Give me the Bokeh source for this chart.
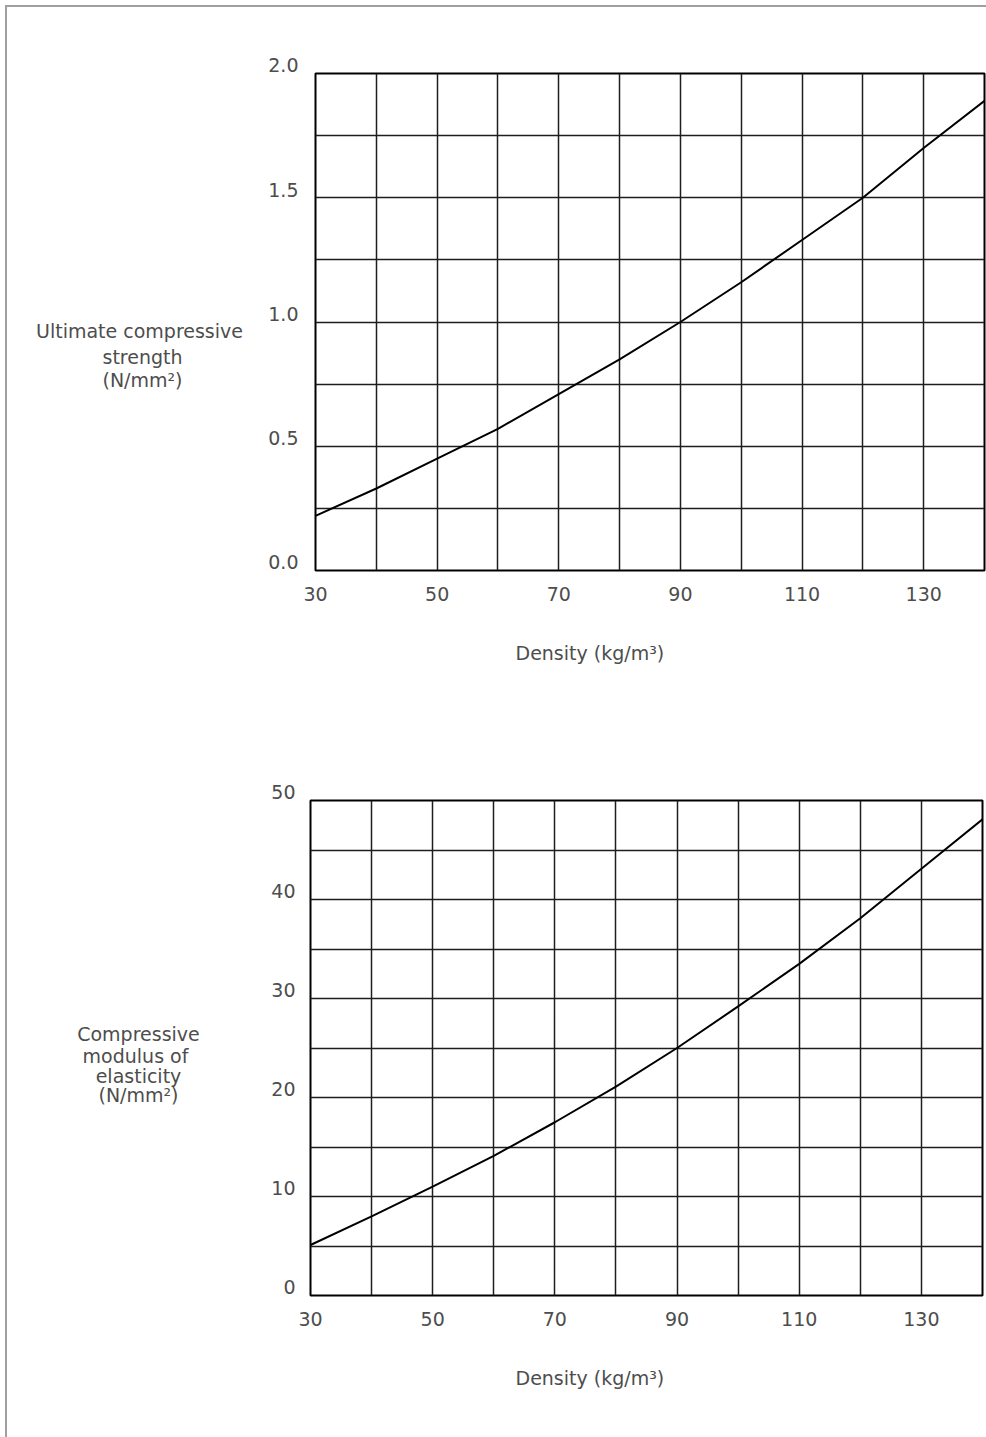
from bokeh.plotting import figure
from bokeh.models import FixedTicker, Title
from bokeh.layouts import column, row
from bokeh.core.properties import value
from bokeh.embed import file_html
from bokeh.resources import INLINE

density = [30, 40, 50, 60, 70, 80, 90, 100, 110, 120, 130, 140]
strength = [0.22, 0.33, 0.45, 0.57, 0.71, 0.85, 1.0, 1.16, 1.33, 1.5, 1.7, 1.89]
modulus = [5.1, 8.0, 11.0, 14.1, 17.5, 21.1, 25.0, 29.2, 33.5, 38.1, 43.1, 48.1]

x_tick_labels = [30, 50, 70, 90, 110, 130]
x_grid = [40, 50, 60, 70, 80, 90, 100, 110, 120, 130]
y1_ticks = [0.0, 0.5, 1.0, 1.5, 2.0]
y1_grid = [0.25, 0.5, 0.75, 1.0, 1.25, 1.5, 1.75]
y2_ticks = [0, 10, 20, 30, 40, 50]
y2_grid = [5, 10, 15, 20, 25, 30, 35, 40, 45]

x_title = "Density  (kg/m³)"
y1_lines = ["Ultimate  compressive", "strength", "(N/mm²)"]
y1_line_pos = [0.962, 0.861, 0.765]
y2_lines = ["Compressive", "modulus  of", "elasticity", "(N/mm²)"]
y2_line_pos = [26.4, 24.2, 22.2, 20.3]

FONT = "DejaVu Sans"
TXT = "#4d4d4d"
PAD = 7            # scanned page edge (margin + border line)
LEFT_W = 250 - PAD
FS = "19px"


def make(height, b_left, b_right, b_top, b_bottom, y_end, y_ticks, y_grid, fmt,
         title_offset, y_standoff):
    p = figure(width=736, height=height, x_range=(30, 140), y_range=(0, y_end),
               output_backend="svg", toolbar_location=None,
               min_border_left=b_left, min_border_right=b_right,
               min_border_top=b_top, min_border_bottom=b_bottom)
    p.outline_line_color = "black"
    p.outline_line_width = 2
    p.xgrid.ticker = FixedTicker(ticks=x_grid)
    p.ygrid.ticker = FixedTicker(ticks=y_grid)
    for g in (p.xgrid, p.ygrid):
        g.grid_line_color = "#1e1e1e"
        g.grid_line_width = 1.5
        g.grid_line_alpha = 1.0
    p.xaxis.ticker = FixedTicker(ticks=x_tick_labels)
    p.yaxis.ticker = FixedTicker(ticks=y_ticks)
    p.yaxis.major_label_overrides = {t: fmt(t) + "\n" for t in y_ticks}
    p.yaxis.major_label_text_line_height = 0.75
    for ax in (p.xaxis, p.yaxis):
        ax.axis_line_color = None
        ax.major_tick_line_color = None
        ax.minor_tick_line_color = None
        ax.major_label_text_font = FONT
        ax.major_label_text_font_size = FS
        ax.major_label_text_color = TXT
    p.xaxis.major_label_standoff = 10
    p.yaxis.major_label_standoff = y_standoff
    t = Title(text=x_title, align="left", offset=title_offset, standoff=73,
              text_font=FONT, text_font_size=FS, text_color=TXT, text_font_style="normal")
    p.add_layout(t, "below")
    return p


def side(chart, lines, cx, ys):
    s = figure(width=LEFT_W, height=chart.height, x_range=(PAD, LEFT_W + PAD),
               y_range=chart.y_range, output_backend="svg", toolbar_location=None,
               min_border=0)
    s.axis.visible = False
    s.grid.visible = False
    s.outline_line_color = None
    s.text(x=[cx] * len(lines), y=ys, text=lines, text_font=value(FONT),
           text_font_size=FS, text_color=TXT, text_align="center", text_baseline="middle")
    return s


H1, H2 = 722 - PAD, 715
p1 = make(H1, 65, 2, 73 - PAD, H1 - (73 - PAD) - 497, 2.0, y1_ticks, y1_grid,
          lambda t: f"{t:.1f}", 200, 11)
p1.line(density, strength, line_color="black", line_width=2)
s1 = side(p1, y1_lines, 142, y1_line_pos)

p2 = make(H2, 60, 4, 78, H2 - 78 - 495, 50, y2_ticks, y2_grid,
          lambda t: f"{t:d}", 205, 9)
p2.line(density, modulus, line_color="black", line_width=2)
s2 = side(p2, y2_lines, 138, y2_line_pos)

layout = column(row(s1, p1, spacing=0), row(s2, p2, spacing=0), spacing=0,
                styles={"margin-left": "5px", "margin-top": "5px",
                        "border-left": "2px solid #a0a0a0", "border-top": "2px solid #a0a0a0"})
open("out.html", "w").write(file_html(layout, INLINE))
